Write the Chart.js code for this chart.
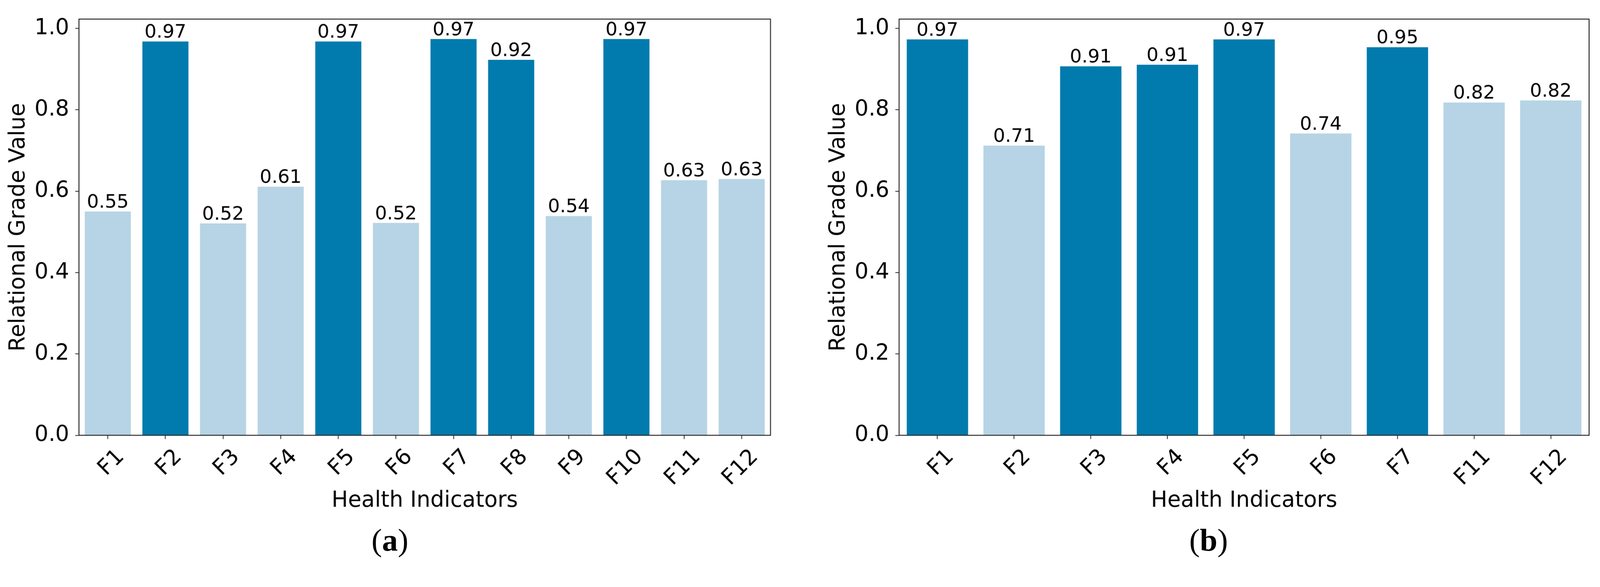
<!DOCTYPE html>
<html>
<head>
<meta charset="utf-8">
<script src="https://cdn.jsdelivr.net/npm/chart.js@4.4.1/dist/chart.umd.min.js"></script>
<style>
  html, body { margin: 0; padding: 0; background: #fff; overflow: hidden; }
  #page { position: relative; width: 4255px; height: 1502px; overflow: hidden; background: #fff; transform-origin: 0 0; }
  canvas { position: absolute; top: 0; }
  .caption { position: absolute; top: 1435px; transform: translate(-50%, -50%); font-family: 'Liberation Serif', serif; font-size: 84px; color: #000; }
</style>
</head>
<body>
<div id="page">
  <canvas id="chart_a" width="2127" height="1502" style="left:0"></canvas>
  <canvas id="chart_b" width="2128" height="1502" style="left:2127px"></canvas>
  <div class="caption" style="left:1037px">(<b>a</b>)</div>
  <div class="caption" style="left:3214px">(<b>b</b>)</div>
</div>
<script>
// panel (a)
const indicatorsA = ['F1', 'F2', 'F3', 'F4', 'F5', 'F6', 'F7', 'F8', 'F9', 'F10', 'F11', 'F12'];
const gradesA = [0.550, 0.968, 0.521, 0.611, 0.968, 0.522, 0.974, 0.923, 0.539, 0.974, 0.627, 0.630];
const keyIndicatorsA = ['F2', 'F5', 'F7', 'F8', 'F10'];

// panel (b)
const indicatorsB = ['F1', 'F2', 'F3', 'F4', 'F5', 'F6', 'F7', 'F11', 'F12'];
const gradesB = [0.973, 0.712, 0.907, 0.911, 0.973, 0.742, 0.954, 0.818, 0.823];
const keyIndicatorsB = ['F1', 'F3', 'F4', 'F5', 'F7'];

const yTicks = [0.0, 0.2, 0.4, 0.6, 0.8, 1.0];
const yMax = 1.023;

const DARK = '#017bad';
const LIGHT = '#b6d4e5';
const INK = '#222';

// fit the 4255x1502 figure into whatever viewport we actually get
const page = document.getElementById('page');
const fit = Math.min(window.innerWidth / 4255, window.innerHeight / 1502);
if (fit > 0 && Math.abs(fit - 1) > 0.001) {
    page.style.transform = `scale(${fit})`;
}

Chart.defaults.font.family = '"DejaVu Sans", sans-serif';
Chart.defaults.color = '#000';

// axes box + value labels on top of the bars
const framePlugin = {
    id: 'frame',
    afterDatasetsDraw(chart) {
        const ctx = chart.ctx;
        const a = chart.chartArea;
        ctx.save();
        ctx.strokeStyle = INK;
        ctx.lineWidth = 2.5;
        ctx.strokeRect(a.left, a.top, a.right - a.left, a.bottom - a.top);

        const values = chart.data.datasets[0].data;
        ctx.fillStyle = '#000';
        ctx.font = '50px "DejaVu Sans"';
        ctx.textAlign = 'center';
        ctx.textBaseline = 'alphabetic';
        chart.getDatasetMeta(0).data.forEach((bar, i) => {
            ctx.fillText(values[i].toFixed(2), bar.x, bar.y - 10);
        });
        ctx.restore();
    }
};

function makeChart(id, labels, values, keys, padLeft, padRight) {
    const ctx = document.getElementById(id).getContext('2d');
    return new Chart(ctx, {
        type: 'bar',
        data: {
            labels: labels,
            datasets: [{
                data: values,
                backgroundColor: labels.map(l => keys.includes(l) ? DARK : LIGHT),
                borderWidth: 0,
                barPercentage: 0.8,
                categoryPercentage: 1.0
            }]
        },
        options: {
            responsive: false,
            animation: false,
            devicePixelRatio: Math.max(1, window.devicePixelRatio || 1),
            layout: { padding: { top: 37, bottom: 135, left: padLeft, right: padRight } },
            plugins: { legend: { display: false }, tooltip: { enabled: false } },
            scales: {
                x: {
                    offset: true,
                    grid: { drawOnChartArea: false, drawTicks: true, tickLength: 10, tickWidth: 2, tickColor: INK, offset: false },
                    border: { display: false },
                    ticks: { color: '#000', font: { size: 58 }, minRotation: 45, maxRotation: 45, padding: 14, labelOffset: 35, autoSkip: false },
                    title: { display: true, text: 'Health Indicators', color: '#000', font: { size: 58 }, padding: 0 },
                    afterFit: s => { s.height = 210; }
                },
                y: {
                    min: 0,
                    max: yMax,
                    grid: { drawOnChartArea: false, drawTicks: true, tickLength: 10, tickWidth: 2, tickColor: INK },
                    border: { display: false },
                    ticks: { color: '#000', font: { size: 58 }, padding: 16, includeBounds: false, callback: v => v.toFixed(1) },
                    afterBuildTicks: s => { s.ticks = yTicks.map(v => ({ value: v })); },
                    title: { display: true, text: 'Relational Grade Value', color: '#000', font: { size: 58 }, padding: { top: 15, bottom: 0 } },
                    afterFit: s => { s.width = 210; }
                }
            }
        },
        plugins: [framePlugin]
    });
}

makeChart('chart_a', indicatorsA, gradesA, keyIndicatorsA, 0, 78);
makeChart('chart_b', indicatorsB, gradesB, keyIndicatorsB, 54, 29);
</script>
</body>
</html>
